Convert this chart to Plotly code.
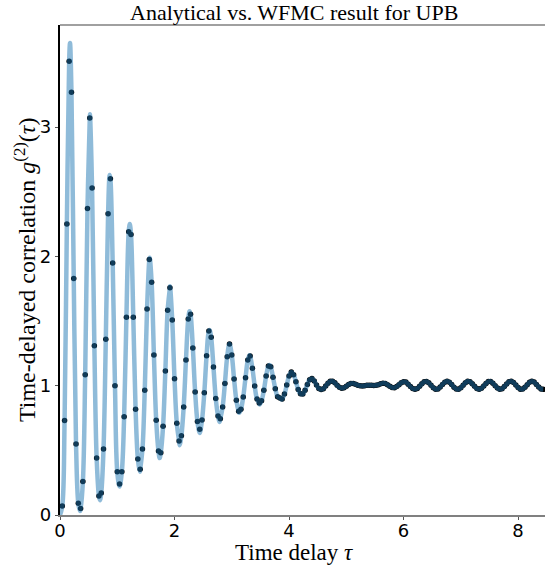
import plotly.graph_objects as go

# ---------------- data ----------------
dt = 0.04  # WFMC sampling step in tau

# WFMC samples g2 at tau = 0.04, 0.08, ...
wfmc_g2 = [
    0.07, 0.73, 2.25, 3.51, 3.27, 1.83, 0.55, 0.09,
    0.05, 0.26, 1.085, 2.37, 3.07, 2.53, 1.31, 0.44,
    0.147, 0.17, 0.51, 1.36, 2.33, 2.60, 1.95, 1.00,
    0.335, 0.24, 0.335, 0.76, 1.53, 2.19, 2.17, 1.53,
    0.817, 0.433, 0.353, 0.51, 0.964, 1.593, 1.977, 1.80,
    1.237, 0.732, 0.495, 0.482, 0.686, 1.114, 1.583, 1.758,
    1.508, 1.054, 0.709, 0.572, 0.613, 0.835, 1.199, 1.516,
    1.552, 1.292, 0.951, 0.724, 0.663, 0.735, 0.946, 1.232,
    1.423, 1.374, 1.145, 0.902, 0.766, 0.745, 0.835, 1.018,
    1.224, 1.322, 1.237, 1.052, 0.887, 0.802, 0.817, 0.913,
    1.062, 1.199, 1.23, 1.135, 0.998, 0.897, 0.866, 0.884,
    0.964, 1.075, 1.152, 1.147, 1.065, 0.977, 0.915, 0.905,
    0.897, 0.935, 1.005, 1.075, 1.106, 1.085, 1.03, 0.97,
    0.937, 0.935, 0.965, 1.01, 1.047, 1.056, 1.037, 1.005,
    0.978, 0.970, 0.977, 0.997, 1.020, 1.034, 1.035, 1.022,
    1.003, 0.988, 0.981, 0.985, 0.996, 1.009, 1.017, 1.018,
    1.012, 1.004, 0.999, 0.998, 1.000, 1.003, 1.004, 1.003,
    1.002, 1.003, 1.008, 1.015, 1.020, 1.018, 1.008, 0.995,
    0.986, 0.985, 0.993, 1.008, 1.023, 1.031, 1.028, 1.012,
    0.993, 0.978, 0.973, 0.979, 0.996, 1.015, 1.030, 1.033,
    1.022, 1.003, 0.984, 0.973, 0.975, 0.990, 1.010, 1.027,
    1.034, 1.027, 1.009, 0.989, 0.975, 0.972, 0.984, 1.003,
    1.023, 1.034, 1.030, 1.015, 0.995, 0.978, 0.972, 0.980,
    0.998, 1.018, 1.032, 1.033, 1.020, 1.000, 0.982, 0.972,
    0.976, 0.993, 1.013, 1.030, 1.035, 1.025, 1.006, 0.986,
    0.973, 0.974, 0.988, 1.008, 1.027, 1.035, 1.028, 1.010,
    0.990, 0.975, 0.972,
]
wfmc_tau = [round(dt * (i + 1), 4) for i in range(len(wfmc_g2))]

# Extra points of the analytical curve (start point and its extrema)
analytic_extra_tau = [0.0, 0.175, 0.35, 0.523, 0.698, 0.868, 1.04, 1.219,
                      1.393, 1.566, 1.741, 1.922, 2.09, 2.263, 2.44, 2.615,
                      2.785, 2.96, 3.13, 3.31, 3.485, 3.66, 3.87]
analytic_extra_g2 = [0.0, 3.65, 0.03, 3.10, 0.115, 2.63, 0.22, 2.25,
                     0.335, 1.99, 0.44, 1.77, 0.54, 1.575, 0.635, 1.43,
                     0.72, 1.325, 0.79, 1.235, 0.855, 1.16, 0.893]

x_ticks = [0, 2, 4, 6, 8]
y_ticks = [0, 1, 2, 3]

title_text = "Analytical vs. WFMC result for UPB"
x_label = "Time delay <i>τ</i>"
y_label = "Time-delayed correlation <i>g</i><sup>(2)</sup>(<i>τ</i>)"

# analytical curve table: union of sample points and extrema
pts = {}
for t, g in zip(wfmc_tau, wfmc_g2):
    pts[t] = g
for t, g in zip(analytic_extra_tau, analytic_extra_g2):
    pts[t] = g
line_tau = sorted(pts)
line_g2 = [pts[t] for t in line_tau]

# ---------------- figure ----------------
fig = go.Figure()
fig.add_trace(go.Scatter(
    x=wfmc_tau, y=wfmc_g2, mode="markers",
    marker=dict(color="black", size=5.5, line=dict(width=0)),
    name="WFMC",
))
fig.add_trace(go.Scatter(
    x=line_tau, y=line_g2, mode="lines",
    line=dict(color="rgba(31,119,180,0.5)", width=4.5, shape="spline", smoothing=1.0),
    name="Analytical",
))

serif = "Liberation Serif, DejaVu Serif, serif"
sans = "DejaVu Sans, sans-serif"

fig.update_layout(
    width=545, height=567,
    margin=dict(l=60, r=0, t=25, b=52),
    plot_bgcolor="white", paper_bgcolor="white",
    showlegend=False,
    xaxis=dict(
        range=[0, 8.47], tickvals=x_ticks, ticktext=[str(v) for v in x_ticks],
        ticks="outside", ticklen=3.5, tickwidth=1, tickcolor="#555",
        ticklabelstandoff=-5,
        showline=True, linecolor="#808080", linewidth=1.5,
        showgrid=False, zeroline=False,
        tickfont=dict(family=sans, size=18, color="black"),
    ),
    yaxis=dict(
        range=[0, 3.79], tickvals=y_ticks, ticktext=[str(v) for v in y_ticks],
        ticks="outside", ticklen=3.5, tickwidth=1, tickcolor="#555",
        showline=True, linecolor="black", linewidth=1.5,
        showgrid=False, zeroline=False,
        tickfont=dict(family=sans, size=18, color="black"),
    ),
    shapes=[dict(type="line", xref="paper", yref="paper", x0=0, x1=1, y0=1, y1=1,
                 line=dict(color="#808080", width=1.5))],
    annotations=[
        dict(text=title_text, xref="paper", yref="paper", x=0.4835, y=1.0265,
             xanchor="center", yanchor="middle", showarrow=False,
             font=dict(family=serif, size=22, color="black")),
        dict(text=x_label, xref="paper", yref="paper", x=0.4835, y=-0.0775,
             xanchor="center", yanchor="middle", showarrow=False,
             font=dict(family=serif, size=23, color="black")),
        dict(text=y_label, xref="paper", yref="paper", x=-0.072, y=0.5,
             xanchor="center", yanchor="middle", showarrow=False, textangle=-90,
             font=dict(family=serif, size=24, color="black")),
    ],
)

fig.write_html("out.html")
